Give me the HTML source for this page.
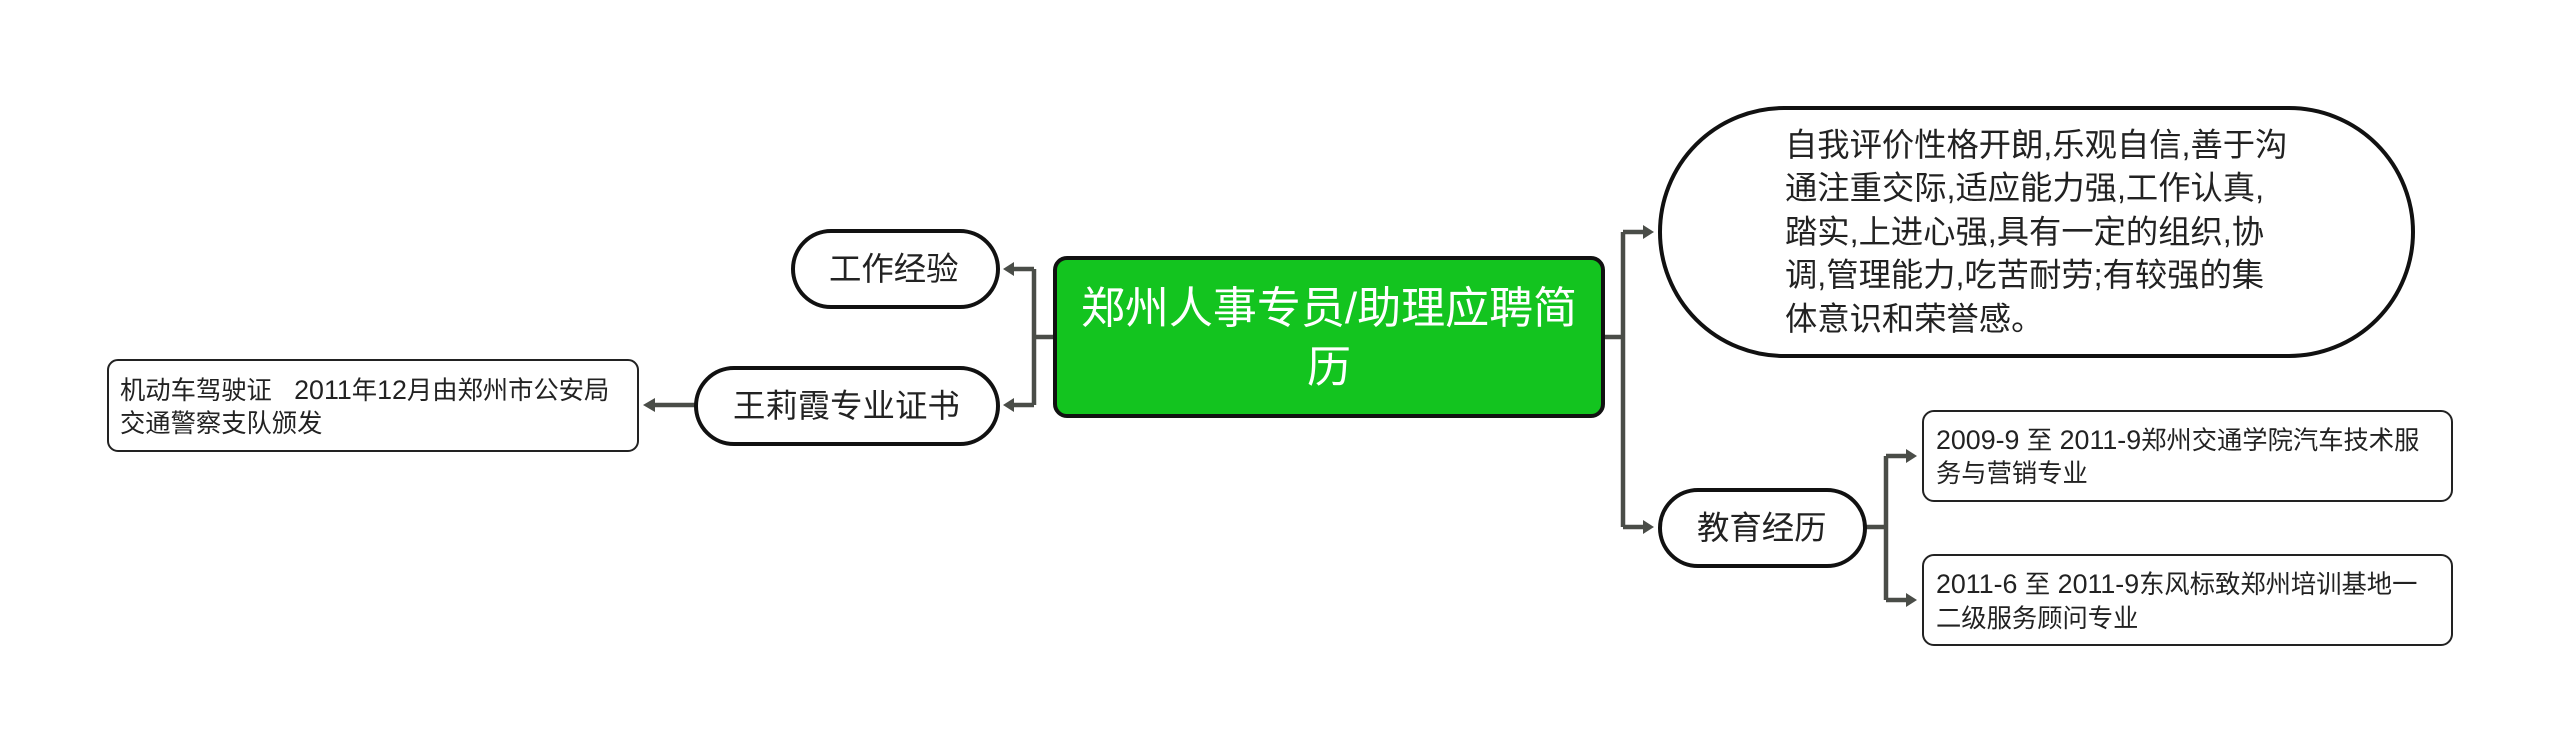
<!DOCTYPE html>
<html lang="zh">
<head>
<meta charset="utf-8">
<style>
html,body{margin:0;padding:0;background:#fff;width:2560px;height:753px;overflow:hidden}
svg{display:block}
text{font-family:"Liberation Sans","Noto Sans CJK SC",sans-serif;fill:#222;white-space:pre}
.s{font-size:25.3px}
.s tspan{font-size:26.8px}
.m{font-size:32.4px}
.p{font-size:32.3px}
.r{font-size:44px;fill:#fff;text-anchor:middle}
.c{fill:none;stroke:#4a4d48;stroke-width:4.5}
.a{fill:#4a4d48}
.n{fill:#fff;stroke:#111;stroke-width:4}
.b{fill:#fff;stroke:#222;stroke-width:2}
</style>
</head>
<body>
<svg width="2560" height="753" viewBox="0 0 2560 753" xmlns="http://www.w3.org/2000/svg">
<rect width="2560" height="753" fill="#fff"/>

<!-- connectors -->
<path class="c" d="M1054 337H1034M1034 269V405M1034 269H1012M1034 405H1012"/>
<path class="a" d="M1003 269l11-7v14zM1003 405l11-7v14z"/>
<path class="c" d="M695 405H654"/>
<path class="a" d="M643 405l12-7v14z"/>
<path class="c" d="M1603 337H1623M1623 232V527M1623 232H1644M1623 527H1644"/>
<path class="a" d="M1654 232l-11-7v14zM1654 527l-11-7v14z"/>
<path class="c" d="M1865 527H1886M1886 456V600M1886 456H1907M1886 600H1907"/>
<path class="a" d="M1917 456l-11-7v14zM1917 600l-11-7v14z"/>

<!-- root -->
<rect x="1055" y="258" width="548" height="158" rx="12" ry="12" fill="#13c41f" stroke="#111" stroke-width="4"/>
<text class="r" x="1329" y="323">郑州人事专员/助理应聘简</text>
<text class="r" x="1329" y="382">历</text>

<!-- left -->
<rect class="n" x="793" y="231" width="205" height="76" rx="38" ry="38"/>
<text class="m" x="829" y="280">工作经验</text>
<rect class="n" x="696" y="368" width="302" height="76" rx="38" ry="38"/>
<text class="m" x="733" y="417">王莉霞专业证书</text>
<rect class="b" x="108" y="360" width="530" height="91" rx="10" ry="10"/>
<text class="s" x="120" y="399">机动车驾驶证<tspan>   2011</tspan>年<tspan>12</tspan>月由郑州市公安局</text>
<text class="s" x="120" y="432">交通警察支队颁发</text>

<!-- big pill -->
<rect class="n" x="1660" y="108" width="753" height="248" rx="124" ry="124"/>
<text class="p" x="1785" y="156">自我评价性格开朗,乐观自信,善于沟</text>
<text class="p" x="1785" y="199">通注重交际,适应能力强,工作认真,</text>
<text class="p" x="1785" y="243">踏实,上进心强,具有一定的组织,协</text>
<text class="p" x="1785" y="286">调,管理能力,吃苦耐劳;有较强的集</text>
<text class="p" x="1785" y="330">体意识和荣誉感。</text>

<!-- edu -->
<rect class="n" x="1660" y="490" width="205" height="76" rx="38" ry="38"/>
<text class="m" x="1697" y="539">教育经历</text>
<rect class="b" x="1923" y="411" width="529" height="90" rx="11" ry="11"/>
<text class="s" x="1936" y="449"><tspan>2009-9 </tspan>至<tspan> 2011-9</tspan>郑州交通学院汽车技术服</text>
<text class="s" x="1936" y="482">务与营销专业</text>
<rect class="b" x="1923" y="555" width="529" height="90" rx="11" ry="11"/>
<text class="s" x="1936" y="593"><tspan>2011-6 </tspan>至<tspan> 2011-9</tspan>东风标致郑州培训基地一</text>
<text class="s" x="1936" y="627">二级服务顾问专业</text>
</svg>
</body>
</html>
